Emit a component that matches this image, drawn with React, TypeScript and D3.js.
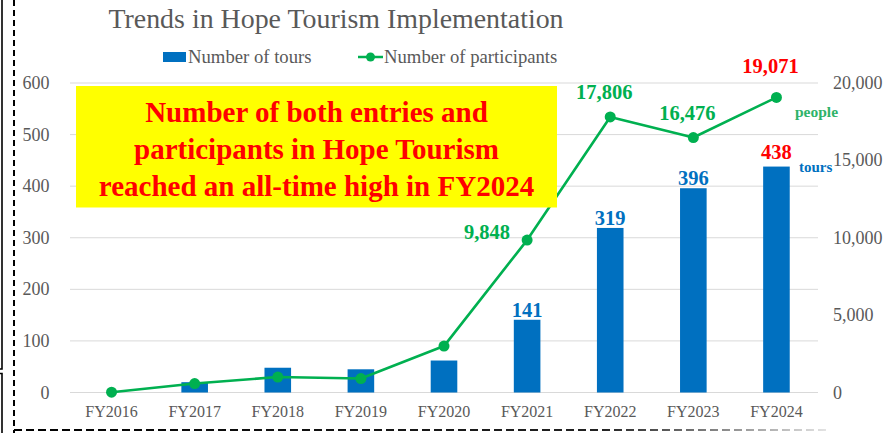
import React, { useEffect } from "react";
import * as d3 from "d3";

const categories = ["FY2016", "FY2017", "FY2018", "FY2019", "FY2020", "FY2021", "FY2022", "FY2023", "FY2024"];
const tours = [0, 20, 48, 45, 62, 141, 319, 396, 438];
const participants = [20, 580, 1000, 900, 3000, 9848, 17806, 16476, 19071];
const leftTicks = [0, 100, 200, 300, 400, 500, 600];
const rightTicks = [0, 5000, 10000, 15000, 20000];
const labelFrom = 5; // data labels shown from FY2021
const title = "Trends in Hope Tourism Implementation";
const legendTours = "Number of tours";
const legendParticipants = "Number of participants";
const calloutLines = [
  "Number of both entries and",
  "participants in Hope Tourism",
  "reached an all-time high in FY2024",
];

const BLUE = "#0070C0";
const GREEN = "#00B050";
const RED = "#FF0000";
const GRAY = "#595959";
const FONT = "'Liberation Serif', 'Times New Roman', serif";

export default function App() {
  useEffect(() => {
    document.body.style.margin = "0";
  }, []);

  const W = 887;
  const H = 433;
  const x0 = 70;
  const x1 = 818;
  const yBase = 392.5;
  const yTop = 83;

  const x = d3.scaleBand<string>().domain(categories).range([x0, x1]).paddingInner(0.68).paddingOuter(0.34);
  const cx = (c: string) => (x(c) as number) + x.bandwidth() / 2;
  const yL = d3.scaleLinear().domain([0, 600]).range([yBase, yTop]);
  const yR = d3.scaleLinear().domain([0, 20000]).range([yBase, yTop]);
  const fmt = d3.format(",");

  const line = d3
    .line<number>()
    .x((_, i) => cx(categories[i]))
    .y((d) => yR(d));

  const last = categories.length - 1;

  return (
    <svg width={W} height={H} style={{ position: "absolute", left: 0, top: 0, background: "#fff" }} fontFamily={FONT}>
      <defs>
        <linearGradient id="fade" gradientUnits="userSpaceOnUse" x1={14} y1={0} x2={830} y2={0}>
          <stop offset="0" stopColor="#000" />
          <stop offset="0.72" stopColor="#222" />
          <stop offset="1" stopColor="#e6e6e6" />
        </linearGradient>
      </defs>
      <rect x={0} y={0} width={W} height={H} fill="#fff" />

      {/* outer border fragments */}
      <path d="M2,0 V369 H0" fill="none" stroke="#000" strokeWidth={1.6} />
      <path d="M0,373.5 H2 V433" fill="none" stroke="#000" strokeWidth={1.6} />
      <line x1={14} y1={0} x2={14} y2={433} stroke="#000" strokeWidth={2} strokeDasharray="6,4" />
      <line x1={14} y1={430} x2={830} y2={430} stroke="url(#fade)" strokeWidth={2} strokeDasharray="8,4" />

      {/* title */}
      <text x={336} y={28} textAnchor="middle" fontSize={27.9} fill={GRAY}>
        {title}
      </text>

      {/* legend */}
      <rect x={163} y={52} width={23} height={10} fill={BLUE} />
      <text x={188} y={63} fontSize={18.7} fill={GRAY}>
        {legendTours}
      </text>
      <line x1={358} y1={57} x2={383} y2={57} stroke={GREEN} strokeWidth={2.5} />
      <circle cx={370.5} cy={57} r={4.5} fill={GREEN} />
      <text x={384} y={63} fontSize={18.7} fill={GRAY}>
        {legendParticipants}
      </text>

      {/* gridlines */}
      {leftTicks.map((t) => (
        <line key={"g" + t} x1={x0} x2={x1} y1={yL(t)} y2={yL(t)} stroke="#d9d9d9" strokeWidth={1} />
      ))}

      {/* left axis labels */}
      {leftTicks.map((t) => (
        <text key={"l" + t} x={49.5} y={yL(t)} dy="0.34em" textAnchor="end" fontSize={18} fill={GRAY}>
          {t}
        </text>
      ))}
      {/* right axis labels */}
      {rightTicks.map((t) => (
        <text key={"r" + t} x={833} y={yR(t)} dy="0.34em" textAnchor="start" fontSize={18} fill={GRAY}>
          {fmt(t)}
        </text>
      ))}

      {/* x labels */}
      {categories.map((c) => (
        <text key={"x" + c} x={cx(c)} y={417} textAnchor="middle" fontSize={16} fill={GRAY}>
          {c}
        </text>
      ))}

      {/* bars */}
      {tours.map((v, i) => (
        <rect key={"b" + i} x={x(categories[i])} y={yL(v)} width={x.bandwidth()} height={yBase - yL(v)} fill={BLUE} />
      ))}

      {/* line */}
      <path d={line(participants) || ""} fill="none" stroke={GREEN} strokeWidth={2.6} strokeLinejoin="round" />
      {participants.map((v, i) => (
        <circle key={"p" + i} cx={cx(categories[i])} cy={yR(v)} r={5.5} fill={GREEN} />
      ))}

      {/* callout box */}
      <rect x={76} y={86} width={481} height={121.5} fill="#FFFF00" />
      {calloutLines.map((s, i) => (
        <text key={"c" + i} x={316.5} y={122 + i * 37} textAnchor="middle" fontSize={29} fontWeight="bold" fill={RED}>
          {s}
        </text>
      ))}

      {/* bar labels */}
      {tours.map((v, i) =>
        i >= labelFrom ? (
          <text
            key={"bl" + i}
            x={cx(categories[i])}
            y={yL(v) - (i === last ? 8 : 3)}
            textAnchor="middle"
            fontSize={20.5}
            fontWeight="bold"
            fill={i === last ? RED : BLUE}
          >
            {fmt(v)}
          </text>
        ) : null
      )}

      {/* participant labels */}
      {participants.map((v, i) => {
        if (i < labelFrom) return null;
        const px = cx(categories[i]);
        const py = yR(v);
        if (i === labelFrom) {
          return (
            <text key={"pl" + i} x={px - 17} y={py - 1} textAnchor="end" fontSize={20.5} fontWeight="bold" fill={GREEN}>
              {fmt(v)}
            </text>
          );
        }
        return (
          <text
            key={"pl" + i}
            x={px - 6}
            y={py - (i === last ? 24 : 18)}
            textAnchor="middle"
            fontSize={20.5}
            fontWeight="bold"
            fill={i === last ? RED : GREEN}
          >
            {fmt(v)}
          </text>
        );
      })}

      {/* unit labels */}
      <text x={795} y={117} fontSize={15.5} fontWeight="bold" fill="#2fb36a">
        people
      </text>
      <text x={799} y={172} fontSize={15} fontWeight="bold" fill={BLUE}>
        tours
      </text>
    </svg>
  );
}
